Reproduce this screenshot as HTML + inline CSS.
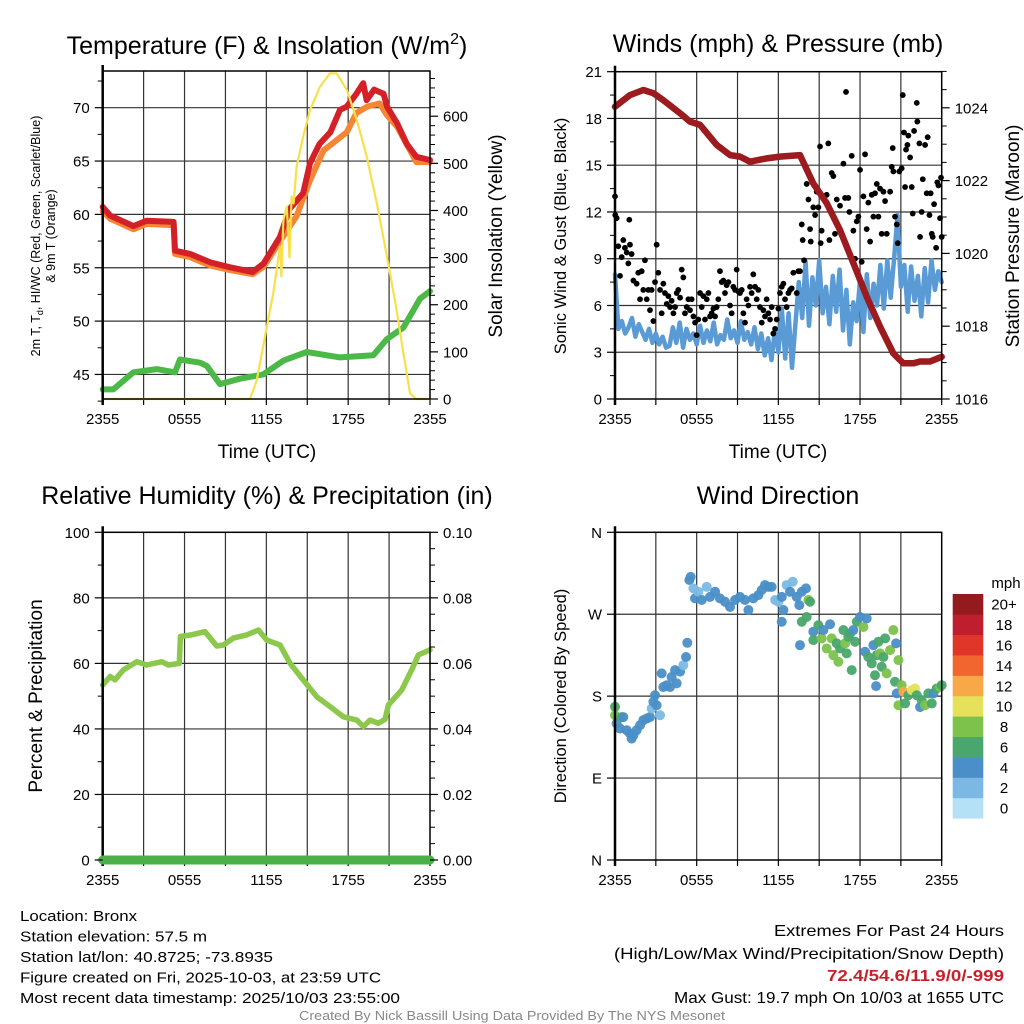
<!DOCTYPE html>
<html><head><meta charset="utf-8"><style>
html,body{margin:0;padding:0;background:#fff;}
svg{display:block;font-family:"Liberation Sans",Arial,sans-serif;}
</style></head><body>
<svg id="c" width="1024" height="1024" viewBox="0 0 1024 1024" xmlns="http://www.w3.org/2000/svg"></svg>
<script>
// ===== DATA =====
const xTickLabels = ["2355","0555","1155","1755","2355"];
// Panel 1: temperature (F) and insolation
const tempTimes = [0,0.54,2.25,3.2,5.2,5.3,6.4,7.9,9.3,11,11.8,13,13.7,14.7,15.2,15.9,16.7,17.4,17.9,18.6,19.1,19.35,19.9,20.6,20.85,21.6,22.3,23,24];
const tempValues = [60.7,59.9,58.9,59.4,59.3,56.6,56.3,55.5,55.05,54.6,55.4,57.9,60.5,62.0,64.8,66.6,67.7,69.8,70.1,71.3,72.3,70.7,71.7,71.3,70.1,68.5,66.6,65.4,65.1];
const temp9Times = [0,0.54,2.25,3.2,5.2,5.3,6.4,7.9,9.3,11,11.8,13,14.2,15.2,16.2,17.9,18.6,19.4,20.3,20.85,21.6,23,24];
const temp9Values = [60.3,59.6,58.6,59.1,59.0,56.3,56.0,55.2,54.8,54.4,55.1,57.5,59.8,63.2,66.0,67.7,69.5,70.1,70.4,69.3,68.2,64.9,64.9];
const dewTimes = [0,0.78,2.25,3.96,5.3,5.67,7.14,7.63,8.6,10.07,11.78,13.25,14.96,17.4,19.85,20.83,22.05,23.27,24];
const dewValues = [43.6,43.6,45.2,45.5,45.2,46.4,46.1,45.8,44.1,44.6,45.0,46.3,47.1,46.6,46.8,48.3,49.4,52.1,52.8];
const solarTimes = [0,10.8,11.3,12.04,12.5,13.0,13.1,13.25,13.5,13.7,13.85,14.0,14.22,14.7,15.2,15.94,16.67,17.16,17.9,18.63,19.36,20.1,20.8,21.55,22.05,22.53,23.0,24];
const solarValues = [0,0,40,154,224,323,260,380,408,300,430,415,493,557,613,663,691,691,656,592,515,415,309,189,97,12,0,0];
// Panel 2: winds (mph) and pressure (mb)
const windValues = [8.0,4.5,5.0,4.2,4.6,5.2,4.0,4.8,4.3,3.8,4.5,3.6,4.2,3.5,4.0,3.3,
 3.4,4.6,3.6,4.9,3.3,4.5,3.8,4.2,3.5,4.7,3.6,4.4,3.7,4.9,3.5,4.1,
 3.8,5.1,3.9,4.4,3.6,5.0,3.8,4.3,3.5,4.6,3.2,4.2,2.8,3.9,2.5,4.4,
 3.0,5.8,2.6,5.5,2.0,4.8,7.5,5.2,8.8,4.7,7.8,6.0,8.9,5.5,7.2,4.8,
 7.9,5.6,8.3,4.4,7.0,3.5,6.2,5.0,7.6,4.3,8.0,5.2,7.4,6.0,8.6,5.8,
 8.9,6.5,9.0,11.8,7.2,8.6,5.6,8.5,6.3,7.9,5.3,8.4,6.2,8.9,7.0,8.2,7.5];
const gustTimes = [0.00,0.02,0.12,0.24,0.37,0.49,0.61,0.73,0.86,0.98,1.05,1.10,1.22,1.35,1.59,1.71,1.84,1.96,2.08,2.20,2.33,2.45,2.57,2.69,2.82,2.94,3.06,3.18,3.31,3.43,3.55,3.67,3.80,3.92,4.04,4.16,4.29,4.41,4.53,4.65,4.78,4.90,5.02,5.14,5.27,5.39,5.51,5.63,5.76,5.88,6.00,6.12,6.25,6.37,6.49,6.61,6.74,6.86,6.98,7.10,7.23,7.35,7.47,7.59,7.71,7.84,7.96,8.08,8.20,8.33,8.45,8.57,8.69,8.82,8.94,9.06,9.18,9.31,9.43,9.55,9.67,9.80,9.92,10.04,10.16,10.29,10.41,10.53,10.65,10.78,10.90,11.02,11.14,11.27,11.39,11.51,11.63,11.76,11.88,12.00,12.12,12.25,12.37,12.49,12.61,12.74,12.86,12.98,13.10,13.35,13.47,13.59,13.72,13.79,13.89,14.08,14.21,14.33,14.38,14.57,14.70,14.82,14.94,15.06,15.11,15.18,15.31,15.55,15.67,15.75,15.92,16.04,16.16,16.29,16.53,16.78,16.90,16.97,17.14,17.22,17.39,17.51,17.63,17.76,17.88,18.00,18.12,18.25,18.37,18.49,18.61,18.74,18.86,18.98,19.10,19.23,19.35,19.47,19.59,19.72,19.84,19.96,20.21,20.33,20.40,20.45,20.57,20.70,20.77,20.89,21.06,21.14,21.23,21.31,21.38,21.48,21.55,21.68,21.80,21.87,21.97,22.17,22.21,22.36,22.41,22.53,22.61,22.78,22.90,22.97,23.10,23.19,23.27,23.34,23.44,23.59,23.68,23.76,23.88,23.95,24.00];
const gustValues = [13.0,11.8,11.6,9.8,7.9,9.1,10.2,9.7,9.4,8.7,11.5,9.9,9.3,7.6,7.4,8.1,6.4,8.2,7.0,8.9,6.4,7.0,5.7,7.0,5.0,7.5,9.9,8.1,7.0,5.5,7.4,6.8,6.1,6.6,5.9,6.3,5.5,5.9,6.8,7.0,6.5,8.3,7.8,5.5,5.9,6.4,5.7,6.4,5.3,4.9,4.1,5.1,6.8,5.9,6.6,5.1,6.4,6.8,5.3,5.5,5.8,5.3,5.9,6.4,8.2,7.5,7.6,6.8,7.3,7.5,6.0,5.5,7.2,7.0,8.3,6.9,6.8,7.0,5.5,4.9,6.4,6.0,7.2,6.8,8.0,7.2,6.4,7.0,5.9,4.9,5.7,5.3,6.4,5.5,5.1,5.9,4.2,4.5,5.1,5.8,6.8,7.2,7.4,6.4,5.9,6.8,7.0,7.1,8.1,6.8,8.2,8.2,11.2,10.2,8.9,13.8,12.8,10.9,10.1,12.3,11.8,13.3,12.3,16.2,10.0,10.8,13.0,13.1,16.4,10.2,14.5,14.3,10.6,12.8,12.4,15.1,12.9,19.7,12.9,12.0,15.6,10.8,9.0,11.4,11.7,14.7,8.8,13.0,15.7,10.9,12.6,10.1,13.1,11.7,13.2,13.8,11.7,13.5,10.6,13.3,12.7,10.6,13.3,14.9,16.1,14.6,11.7,11.2,10.0,14.6,14.8,19.5,17.1,13.6,16.0,16.3,16.9,15.5,13.6,11.9,17.2,19.0,17.8,16.4,10.4,12.0,14.1,16.3,13.2,16.8,11.8,13.2,10.6,10.4,12.5,9.7,13.9,13.7,11.6,14.2,10.4];
const presTimes = [0,1.1,2.08,2.82,3.55,4.78,5.51,6.25,7.47,8.45,9.18,9.92,11.14,12.12,13.59,14.57,15.55,16.53,17.51,18.49,19.47,20.45,21.18,21.92,22.41,23.14,24];
const presValues = [1024.03,1024.35,1024.49,1024.40,1024.21,1023.85,1023.62,1023.53,1022.98,1022.70,1022.66,1022.52,1022.61,1022.66,1022.70,1021.92,1021.38,1020.64,1019.73,1018.81,1017.99,1017.25,1016.98,1016.98,1017.03,1017.03,1017.16];
// Panel 3: RH and precip
const rhTimes = [0,0.54,0.9,1.52,2.5,3.23,4.33,4.82,5.62,5.7,6.48,7.5,8.36,8.85,9.58,10.56,11.42,12.03,13.0,13.74,14.72,15.7,16.67,17.65,18.63,19.12,19.6,20.21,20.7,20.95,21.93,22.66,23.15,24];
const rhValues = [53.4,56,55,58,60.5,59.5,60.5,59.5,60,68.2,68.7,69.7,65.3,65.6,67.7,68.7,70.2,67.1,65.6,60,54.9,49.8,46.8,43.7,42.7,40.7,42.7,41.7,42.9,47.3,51.9,58,62.6,64.1];
const precipTimes = [0,24];
const precipValues = [0,0];
// Panel 4: wind direction (deg) colored by speed (mph)
const dirTimes = [0,0,0.12,0.37,0.49,0.61,0.86,1.1,1.22,1.35,1.59,1.84,2.08,2.33,2.57,2.69,2.82,2.94,3.06,3.31,3.43,3.55,3.8,4.04,4.16,4.41,4.53,4.78,5.02,5.22,5.31,
 5.46,5.56,5.76,5.88,6.12,6.37,6.74,6.98,7.35,7.71,8.08,8.45,8.82,9.18,9.55,9.8,10.16,10.53,10.78,11.02,11.27,11.51,11.76,12.0,12.25,12.37,12.25,12.61,12.86,13.06,13.35,13.54,13.72,14.03,14.21,14.33,
 13.72,14.08,13.59,14.57,14.57,14.94,15.18,15.31,15.55,15.8,15.92,16.04,16.29,16.41,16.53,16.78,16.9,17.14,17.02,17.27,17.39,17.51,17.63,17.76,18.0,18.25,18.49,18.37,18.61,18.86,18.98,19.1,19.23,19.35,19.47,19.59,19.72,19.84,19.96,20.21,20.45,20.57,20.65,20.82,19.18,
 20.7,20.82,21.06,21.18,21.31,21.55,21.8,22.04,22.17,22.41,22.53,22.78,23.02,23.27,23.39,23.63,23.88,24.0];
const dirValues = [168.3,159,150,144.4,157,157,142.6,139,133.4,137,142.6,148,153.6,155.4,157,166.4,173.8,181,170,159,205,190,192,190,201,208.6,194,207,214,223,238.6,
 307.6,311,298.4,287.4,294.7,285.6,300,289,294.7,287.4,283.7,278,285.6,289,285.6,274.6,287.4,291,296.6,302,300,300,285.6,283.7,289,274.6,261.7,302,294.7,305.7,289,280,294.7,298.4,285.6,283.7,
 261.7,267,236,250.8,241.6,258,243.4,252.6,232.4,259,243.4,225,238,217.8,232.4,252.6,238,245.2,227,249,208.6,252.6,239.8,261.7,267,256,265.4,228.8,223,216,236,203,225,239.8,227,212.3,223,243.4,205,230.6,252.6,195.8,238,219.6,191,
 183,170,192,184.8,172,181,186.6,188.4,181,168,175.6,170,183,172,183,188.4,190,192];
const dirSpeeds = [7,9,5,5,7,5,5,5,5,5,5,5,5,5,5,3,5,5,5,3,5,5,5,5,5,5,5,5,3,5,5,
 5,5,3,5,3,5,3,5,5,5,5,5,5,5,5,5,5,5,5,5,5,5,3,3,5,5,5,3,5,3,5,5,5,5,9,7,
 7,7,5,5,7,7,9,5,9,5,9,9,7,9,7,7,9,7,7,7,7,5,7,7,5,9,5,5,7,7,5,7,7,7,9,7,7,7,9,9,9,7,5,9,5,
 5,9,9,13,7,7,11,11,7,5,7,9,7,7,5,7,9,7];
const cbLabels = ["0","2","4","6","8","10","12","14","16","18","20+"];
const cbColors = ["#b5e1f6","#7bb9e4","#4a8fc7","#49a66c","#7cc24b","#e6e05a","#f7a947","#f0662e","#e0362a","#be1e2d","#951a1e"];

// ===== DRAWING =====
const svg = document.getElementById('c');
const NS = 'http://www.w3.org/2000/svg';
function el(tag, attrs, parent){ const e=document.createElementNS(NS,tag); for(const k in attrs) e.setAttribute(k,attrs[k]); (parent||svg).appendChild(e); return e; }
function txt(s, attrs, parent){ const e=el('text',attrs,parent); e.textContent=s; return e; }

function makePanel(name, x0,x1,y0,y1){
  const g=el('g',{});
  
  
  return {g,x0,x1,y0,y1, xs:t=>x0+t/24*(x1-x0)};
}
function frameAndGrid(p, hGridYs){
  const gg=el('g',{},p.g);
  
  
  for(let h=3;h<24;h+=3){ const x=p.xs(h); el('line',{x1:x,y1:p.y0,x2:x,y2:p.y1,stroke:'#333','stroke-width':1.2},gg); }
  hGridYs.forEach(y=>el('line',{x1:p.x0,y1:y,x2:p.x1,y2:y,stroke:'#333','stroke-width':1.2},gg));
  const xa=el('g',{},p.g);
  
  
  for(let h=0;h<=24;h+=3){ const x=p.xs(h); el('line',{x1:x,y1:p.y1,x2:x,y2:p.y1+6,stroke:'#000','stroke-width':1.2},xa); }
  xTickLabels.forEach((s,i)=>{ const t=txt(s,{x:p.xs(i*6),y:p.y1+25,'text-anchor':'middle','font-size':15},xa);
      });
}
function border(p){
  el('rect',{x:p.x0,y:p.y0,width:p.x1-p.x0,height:p.y1-p.y0,fill:'none',stroke:'#000','stroke-width':1.5},p.g);
  el('line',{x1:p.x0,y1:p.y0-6,x2:p.x0,y2:p.y1+6,stroke:'#000','stroke-width':2.5},p.g);
}
function leftAxis(p, majors, minors, ys, labels){
  const a=el('g',{},p.g);
  
  
  majors.forEach((v,i)=>{ const y=ys(v); el('line',{x1:p.x0-8,y1:y,x2:p.x0,y2:y,stroke:'#000','stroke-width':1.2},a);
    const t=txt(labels[i],{x:p.x0-13,y:y+5.5,'text-anchor':'end','font-size':15},a);
      });
  minors.forEach(v=>{ const y=ys(v); el('line',{x1:p.x0-5,y1:y,x2:p.x0,y2:y,stroke:'#000','stroke-width':1},a); });
}
function rightAxis(p, majors, minors, ys, labels){
  const a=el('g',{},p.g);
  
  
  majors.forEach((v,i)=>{ const y=ys(v); el('line',{x1:p.x1,y1:y,x2:p.x1+8,y2:y,stroke:'#000','stroke-width':1.2},a);
    const t=txt(labels[i],{x:p.x1+13,y:y+5.5,'text-anchor':'start','font-size':15},a);
      });
  minors.forEach(v=>{ const y=ys(v); el('line',{x1:p.x1,y1:y,x2:p.x1+5,y2:y,stroke:'#000','stroke-width':1},a); });
}
function range(a,b,s){ const r=[]; for(let v=a;v<=b+1e-9;v+=s) r.push(+v.toFixed(4)); return r; }
function pathFrom(times, vals, p, ys){ return times.map((t,i)=>(i?'L':'M')+p.xs(t).toFixed(1)+','+ys(vals[i]).toFixed(1)).join(''); }
function series(name, times, vals, p, ys, color, w, op){
  const e=el('path',{d:pathFrom(times,vals,p,ys),fill:'none',stroke:color,'stroke-width':w,'stroke-linejoin':'round','stroke-linecap':'round','stroke-opacity':op||1},p.g);
  
  
  return e;
}
function title(s,x,y,name){ const t=txt(s,{x:x,y:y,'text-anchor':'middle','font-size':25});   return t; }
function vtitle(s,x,y,size,name){ const t=txt(s,{x:0,y:0,'text-anchor':'middle','font-size':size,transform:`translate(${x},${y}) rotate(-90)`});   return t; }

// ---- Panel 1 ----
const p1=makePanel('temperature-panel',102.7,430,71,399);
const yT=v=>107.7+(70-v)*10.67, yS=v=>399-v*0.4713;
frameAndGrid(p1,[45,50,55,60,65,70].map(yT));
series('temp-9m-line',temp9Times,temp9Values,p1,yT,'#f58634',6);
series('temp-2m-line',tempTimes,tempValues,p1,yT,'#d42127',6);
series('dewpoint-line',dewTimes,dewValues,p1,yT,'#4cb848',6);
series('solar-line',solarTimes,solarValues,p1,yS,'#f9e04b',2.2);
border(p1);
leftAxis(p1,[45,50,55,60,65,70],range(42.5,72.5,2.5).filter(v=>v%5!==0),yT,["45","50","55","60","65","70"]);
rightAxis(p1,[0,100,200,300,400,500,600],range(20,680,20).filter(v=>v%100!==0),yS,["0","100","200","300","400","500","600"]);
const t1=el('text',{x:267,y:54,'text-anchor':'middle','font-size':25});
 
t1.innerHTML='Temperature (F) &amp; Insolation (W/m<tspan dy="-10" font-size="16">2</tspan><tspan dy="10">)</tspan>';
const lt=el('text',{'text-anchor':'middle','font-size':12.5,transform:'translate(40,236) rotate(-90)'});
 
lt.innerHTML='<tspan x="0" dy="0">2m T, T<tspan font-size="9" dy="3">d</tspan><tspan dy="-3">, HI/WC (Red, Green, Scarlet/Blue)</tspan></tspan><tspan x="0" dy="15">&amp; 9m T (Orange)</tspan>';
vtitle('Solar Insolation (Yellow)',502,236,19,'solar-axis-title');
txt('Time (UTC)',{x:267,y:458,'text-anchor':'middle','font-size':19});

// ---- Panel 2 ----
const p2=makePanel('winds-panel',615,941.7,71.7,399);
const yW=v=>399-v*15.586, yP=v=>399-(v-1016)*36.4;
frameAndGrid(p2,[3,6,9,12,15,18].map(yW));
series('sonic-wind-line',windValues.map((v,i)=>i*0.25),windValues,p2,yW,'#5a9bd5',4.5);
const gg=el('g',{},p2.g);
 
gustTimes.forEach((t,i)=>{ const c=el('circle',{cx:p2.xs(t),cy:yW(gustValues[i]),r:2.9,fill:'#000'},gg);
    });
series('pressure-line',presTimes,presValues,p2,yP,'#9b1b1e',6.5);
border(p2);
leftAxis(p2,[0,3,6,9,12,15,18,21],range(1.5,19.5,3),yW,["0","3","6","9","12","15","18","21"]);
rightAxis(p2,[1016,1018,1020,1022,1024],range(1016.5,1025,0.5).filter(v=>v%2!==0),yP,["1016","1018","1020","1022","1024"]);
title('Winds (mph) & Pressure (mb)',778,52,'winds-title');
vtitle('Sonic Wind & Gust (Blue, Black)',566,236,16.5,'wind-axis-title');
vtitle('Station Pressure (Maroon)',1019,236,19,'pressure-axis-title');
txt('Time (UTC)',{x:778,y:458,'text-anchor':'middle','font-size':19});

// ---- Panel 3 ----
const p3=makePanel('humidity-panel',102.7,430,532.3,860);
const yR=v=>860-v*3.277, yPr=v=>860-v*3277;
frameAndGrid(p3,[20,40,60,80].map(yR));
series('rh-line',rhTimes,rhValues,p3,yR,'#8cc84b',5.5);
border(p3);
series('precip-line',precipTimes,precipValues,p3,yPr,'#4cb048',9);
leftAxis(p3,[0,20,40,60,80,100],range(10,90,20),yR,["0","20","40","60","80","100"]);
rightAxis(p3,[0,0.02,0.04,0.06,0.08,0.1],range(0.005,0.095,0.005).filter(v=>Math.round(v*1000)%20!==0),yPr,["0.00","0.02","0.04","0.06","0.08","0.10"]);
title('Relative Humidity (%) & Precipitation (in)',267,504,'humidity-title');
vtitle('Percent & Precipitation',42,696,19,'percent-axis-title');

// ---- Panel 4 ----
const p4=makePanel('wind-direction-panel',615,941.7,532.3,860);
const yD=v=>860-v*0.9103;
frameAndGrid(p4,[90,180,270].map(yD));
function speedColor(s){ return cbColors[Math.min(10,Math.floor(s/2))]; }
const dg=el('g',{},p4.g);
 
dirTimes.forEach((t,i)=>{ const c=el('circle',{cx:p4.xs(t),cy:yD(dirValues[i]),r:5,fill:speedColor(dirSpeeds[i]),'fill-opacity':0.95},dg);
    });
border(p4);
leftAxis(p4,[0,90,180,270,360],[],yD,["N","E","S","W","N"]);
title('Wind Direction',778,504,'direction-title');
vtitle('Direction (Colored By Speed)',566,696,16.5,'direction-axis-title');
const cb=el('g',{});
 
const cbTop=594, cbBot=818.3, cbH=(cbBot-cbTop)/11;
cbColors.forEach((c,i)=>{ const y=cbBot-(i+1)*cbH; el('rect',{x:952.7,y:y,width:30.6,height:cbH+0.3,fill:c},cb);
  const t=txt(cbLabels[i],{x:1004,y:y+cbH/2+5.5,'text-anchor':'middle','font-size':15},cb);
    });
txt('mph',{x:1006,y:588,'text-anchor':'middle','font-size':15},cb);

// ---- Footer text ----
const info=["Location: Bronx","Station elevation: 57.5 m","Station lat/lon: 40.8725; -73.8935","Figure created on Fri, 2025-10-03, at 23:59 UTC","Most recent data timestamp: 2025/10/03 23:55:00"];
const infoW=[117,187,253,361,380];
info.forEach((s,i)=>{ const t=txt(s,{x:20,y:921+i*20.5,'font-size':15,textLength:infoW[i],lengthAdjust:'spacingAndGlyphs'});
    });
const ext=[["Extremes For Past 24 Hours",230,936,'#000','normal'],["(High/Low/Max Wind/Precipitation/Snow Depth)",390,959,'#000','normal'],["72.4/54.6/11.9/0/-999",177,981,'#c8202a','bold'],["Max Gust: 19.7 mph On 10/03 at 1655 UTC",330,1003,'#000','normal']];
ext.forEach(e=>{ const t=txt(e[0],{x:1004,y:e[2],'text-anchor':'end','font-size':16,fill:e[3],'font-weight':e[4],textLength:e[1],lengthAdjust:'spacingAndGlyphs'});
    });
const cr=txt('Created By Nick Bassill Using Data Provided By The NYS Mesonet',{x:512,y:1020,'text-anchor':'middle','font-size':12.5,fill:'#888',textLength:426,lengthAdjust:'spacingAndGlyphs'});
 
</script>
</body></html>
